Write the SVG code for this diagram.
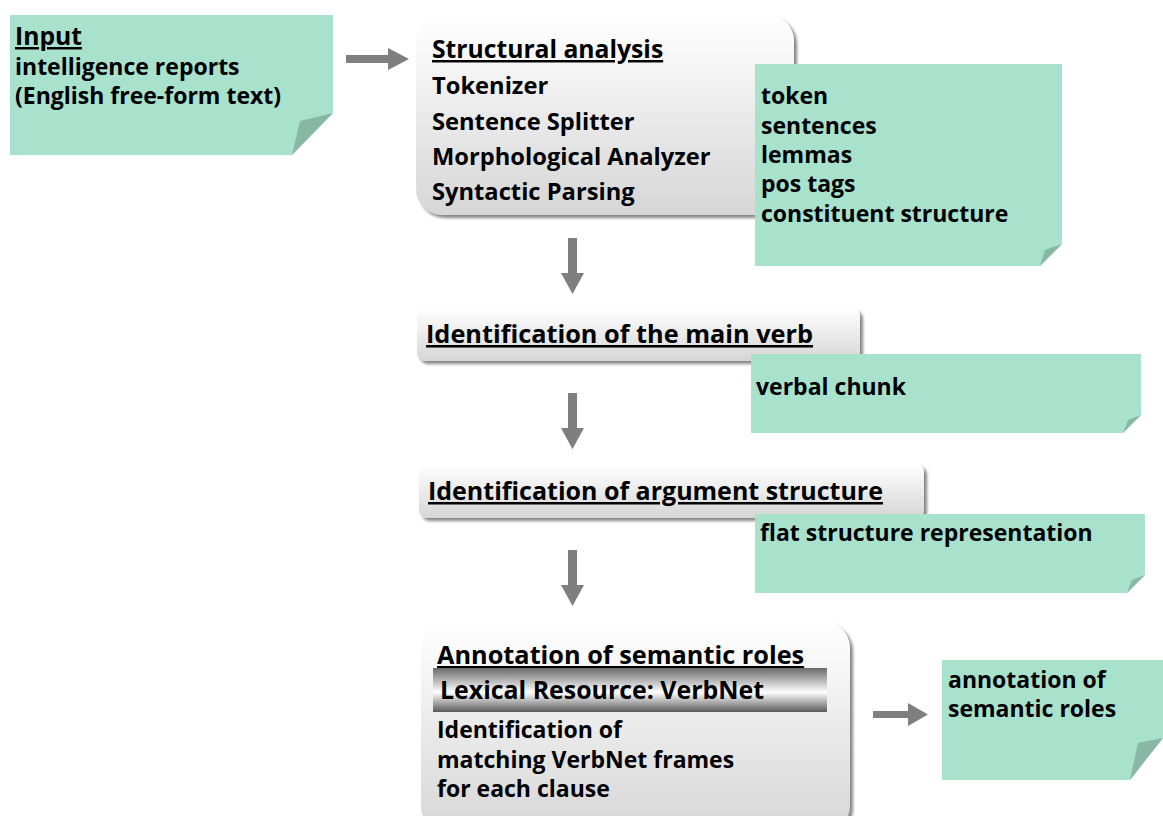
<svg xmlns="http://www.w3.org/2000/svg" width="1163" height="816" viewBox="0 0 1163 816">
  <style>
    text { font-family: "Open Sans", "Noto Sans", sans-serif; font-weight: 700; font-size: 23px; fill: #000; }
    .u { text-decoration: underline; }
    .h { font-size: 24.7px; }
    .h2 { font-size: 25.3px; }
    .step { font-size: 23.7px; }
    .bar { font-size: 24.9px; }
    .note { fill: #a8e1cc; }
    .fold { fill: #88b7a3; }
    .arrow { fill: #7f7f7f; }
  </style>
  <defs>
    <linearGradient id="boxFill" x1="0" y1="0" x2="0" y2="1">
      <stop offset="0" stop-color="#ffffff"/>
      <stop offset="1" stop-color="#d6d6d6"/>
    </linearGradient>
    <linearGradient id="barFill" x1="0" y1="0" x2="0" y2="1">
      <stop offset="0" stop-color="#6a6a6a"/>
      <stop offset="0.55" stop-color="#ffffff"/>
      <stop offset="1" stop-color="#5a5a5a"/>
    </linearGradient>
    <filter id="shadow" x="-5%" y="-5%" width="115%" height="120%">
      <feDropShadow dx="3" dy="3" stdDeviation="1.5" flood-color="#555" flood-opacity="0.7"/>
    </filter>
  </defs>

  <!-- input note -->
  <g id="input">
    <polygon class="note" points="10,15 333,15 333,113 292,155 10,155"/>
    <polygon class="fold" points="292,155 300,121 333,113"/>
    <text x="15" y="45" class="u h">Input</text>
    <text x="15" y="75">intelligence reports</text>
    <text x="15" y="104">(English free-form text)</text>
  </g>

  <!-- structural analysis -->
  <g id="structural">
    <rect x="416" y="15" width="378" height="200" rx="26" fill="url(#boxFill)" filter="url(#shadow)"/>
    <text x="432" y="58" class="u h">Structural analysis</text>
    <text x="432" y="94" class="step">Tokenizer</text>
    <text x="432" y="130" class="step">Sentence Splitter</text>
    <text x="432" y="165" class="step">Morphological Analyzer</text>
    <text x="432" y="200" class="step">Syntactic Parsing</text>
  </g>

  <g id="structural-out">
    <polygon class="note" points="755,64 1062,64 1062,244 1040,266 755,266"/>
    <polygon class="fold" points="1040,266 1045,250 1062,244"/>
    <text x="761" y="104">token</text>
    <text x="761" y="134">sentences</text>
    <text x="761" y="163">lemmas</text>
    <text x="761" y="192">pos tags</text>
    <text x="761" y="222">constituent structure</text>
  </g>

  <!-- main verb -->
  <g id="mainverb">
    <rect x="417" y="308" width="443" height="53" rx="8" fill="url(#boxFill)" filter="url(#shadow)"/>
    <text x="426" y="343" class="u h2">Identification of the main verb</text>
  </g>

  <g id="mainverb-out">
    <polygon class="note" points="751,354 1141,354 1141,415 1123,433 751,433"/>
    <polygon class="fold" points="1123,433 1128,420 1141,415"/>
    <text x="756" y="395">verbal chunk</text>
  </g>

  <!-- argument structure -->
  <g id="argstruct">
    <rect x="419" y="464" width="505" height="54" rx="8" fill="url(#boxFill)" filter="url(#shadow)"/>
    <text x="428" y="500" class="u" style="font-size:25px">Identification of argument structure</text>
  </g>

  <g id="argstruct-out">
    <polygon class="note" points="755,514 1145,514 1145,575 1127,593 755,593"/>
    <polygon class="fold" points="1127,593 1132,580 1145,575"/>
    <text x="760" y="541">flat structure representation</text>
  </g>

  <!-- semantic roles -->
  <g id="semroles">
    <rect x="421" y="622" width="429" height="210" rx="26" fill="url(#boxFill)" filter="url(#shadow)"/>
    <text x="437" y="664" class="u h2">Annotation of semantic roles</text>
    <rect x="433" y="668" width="394" height="44" fill="url(#barFill)"/>
    <text x="440" y="699" class="bar">Lexical Resource: VerbNet</text>
    <text x="437" y="738">Identification of</text>
    <text x="437" y="768">matching VerbNet frames</text>
    <text x="437" y="797">for each clause</text>
  </g>

  <g id="semroles-out">
    <polygon class="note" points="942,660 1163,660 1163,738 1130,780 942,780"/>
    <polygon class="fold" points="1130,780 1138,743 1163,738"/>
    <text x="948" y="688">annotation of</text>
    <text x="948" y="717">semantic roles</text>
  </g>

  <!-- connectors -->
  <g id="connectors">
    <polygon class="arrow" points="346,55 388,55 388,48 409,59 388,70 388,63 346,63"/>
    <polygon class="arrow" points="568,238 577,238 577,273 584,273 572.5,294 561,273 568,273"/>
    <polygon class="arrow" points="568,393 577,393 577,428 584,428 572.5,449 561,428 568,428"/>
    <polygon class="arrow" points="568,550 577,550 577,585 584,585 572.5,606 561,585 568,585"/>
    <polygon class="arrow" points="873,711 908,711 908,703 928,714.5 908,726 908,718 873,718"/>
  </g>
</svg>
